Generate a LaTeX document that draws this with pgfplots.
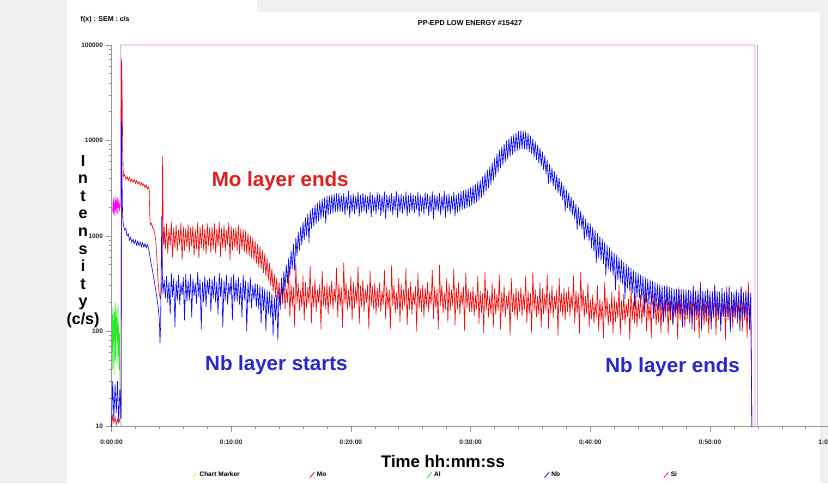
\documentclass[border=0pt]{standalone}
\usepackage{fontspec}
\setmainfont{Liberation Sans}
\usepackage{pgfplots}
\pgfplotsset{compat=1.18}
\definecolor{moRed}{RGB}{240,10,10}
\definecolor{nbBlue}{RGB}{10,10,240}
\definecolor{alGreen}{RGB}{40,235,40}
\definecolor{siMag}{RGB}{255,0,255}
\definecolor{siLine}{RGB}{230,140,230}
\definecolor{txtRed}{RGB}{225,30,30}
\definecolor{txtBlue}{RGB}{40,40,200}
\definecolor{bgGray}{RGB}{240,240,243}
\definecolor{axGray}{RGB}{150,150,150}
\begin{document}
\begin{tikzpicture}
\begin{scope}[shift={(-111.5pt,426.7pt)},x=1pt,y=-1pt]
\fill[bgGray] (0,0) rectangle (828,483);
\fill[white] (67,0) rectangle (257,12);
\fill[white] (67,12) rectangle (820,483);
\end{scope}
\begin{axis}[
 name=ax, at={(0,0)}, anchor=south west,
 scale only axis, width=718.2pt, height=381.7pt,
 xmin=0, xmax=60, ymin=10, ymax=100000, ymode=log,
 clip=false,
 axis x line=bottom, axis y line=left,
 every outer x axis line/.append style={-},
 every outer y axis line/.append style={-},
 axis line style={draw=axGray, line width=0.8pt, -},
 tick style={draw=axGray, line width=0.6pt},
 tick align=outside,
 major tick length=5pt, minor tick length=2.5pt,
 xtick={0,10,20,30,40,50,60},
 minor xtick={2,4,6,8,12,14,16,18,22,24,26,28,32,34,36,38,42,44,46,48,52,54,56,58},
 xticklabels={\textbf{0:00:00},\textbf{0:10:00},\textbf{0:20:00},\textbf{0:30:00},\textbf{0:40:00},\textbf{0:50:00},\textbf{1:00:00}},
 ytick={10,100,1000,10000,100000},
 minor ytick={20,30,40,50,60,70,80,90,200,300,400,500,600,700,800,900,2000,3000,4000,5000,6000,7000,8000,9000,20000,30000,40000,50000,60000,70000,80000,90000},
 yticklabels={\textbf{10},\textbf{100},\textbf{1000},\textbf{10000},\textbf{100000}},
 ticklabel style={font=\fontsize{6.5}{7}\selectfont, text=black!85},
 xticklabel style={yshift=-5pt},
 legend image code/.code={\draw[#1, line width=0.8pt] (0pt,-2.5pt) -- (4.5pt,2.5pt);},
 legend style={at={(axis description cs:0.108,-0.1265)}, anchor=west, draw=none, fill=none,
   legend columns=5, font=\fontsize{6.5}{7}\selectfont\bfseries,
   /tikz/every even column/.append style={column sep=0pt}},
]
\addlegendimage{color=yellow!80!orange!70}
\addlegendentry{\makebox[108pt][l]{Chart Marker}}
\addlegendimage{color=moRed}
\addlegendentry{\makebox[108pt][l]{Mo}}
\addlegendimage{color=alGreen}
\addlegendentry{\makebox[108pt][l]{Al}}
\addlegendimage{color=nbBlue}
\addlegendentry{\makebox[110pt][l]{Nb}}
\addlegendimage{color=siMag}
\addlegendentry{\makebox[108pt][l]{Si}}

% Si
\addplot[forget plot, siMag, line width=0.6pt] coordinates {
(0.10,1800)(0.13,2300)(0.16,1700)(0.19,2500)(0.22,1900)(0.25,2200)(0.28,1600)(0.31,2400)(0.34,1850)(0.37,2600)(0.40,1750)(0.43,2300)(0.46,1950)(0.49,2500)(0.52,1700)(0.55,2200)(0.58,2000)(0.61,2400)(0.64,1800)(0.67,2100)(0.70,2000)(0.74,2100)};
\addplot[forget plot, siLine, line width=0.8pt] coordinates {
(0.74,2100)(0.78,100000)(53.76,100000)(53.76,10)};
% chart marker line
\addplot[forget plot, gray!55, line width=1pt] coordinates {(53.93,10)(53.93,100000)};
% Al
\addplot[forget plot, alGreen, line width=0.6pt] coordinates {
(0.05,60)(0.08,150)(0.10,40)(0.13,180)(0.16,70)(0.19,130)(0.22,35)(0.25,160)(0.28,80)(0.31,200)(0.34,50)(0.37,140)(0.40,90)(0.43,170)(0.46,45)(0.49,120)(0.52,75)(0.55,190)(0.58,55)(0.61,110)(0.64,40)(0.67,95)(0.70,30)(0.75,20)(0.80,10)};
% Mo
\addplot[forget plot, moRed, line width=0.6pt] coordinates {
(0,10)(0.1,13)(0.2,11)(0.3,12.5)(0.4,10.5)(0.5,12)(0.6,11)(0.7,12)(0.8,14)(0.84,72000)(0.88,40000)(0.92,12000)(0.96,5500)
(1.0,4200)(1.1,4400)(1.2,3900)(1.3,4200)(1.4,3800)(1.5,4100)(1.6,3700)(1.7,3950)(1.8,3650)(1.9,3900)(2.0,3550)(2.1,3800)(2.2,3500)(2.3,3700)(2.4,3400)(2.5,3600)(2.6,3350)(2.7,3500)(2.8,3200)(2.9,3400)(3.0,3100)(3.1,3250)(3.15,3000)
(3.2,1600)(3.25,1300)(3.35,1350)(3.45,1200)(3.55,1150)(3.6,1080)(3.7,900)(3.8,560)(3.9,320)(4.0,240)(4.1,220)(4.2,300)(4.27,6900)(4.32,1000)(4.36,800)
(4.4,1250)(4.5,720)(4.6,1350)(4.7,650)(4.8,1180)(4.9,780)(5.0,1400)(5.1,600)(5.2,1220)(5.3,740)(5.4,1300)(5.5,690)(5.6,1150)(5.7,800)(5.8,1380)(5.9,560)(6.0,1260)(6.1,700)(6.2,1200)(6.3,760)
(6.4,1320)(6.5,680)(6.6,1210)(6.7,770)(6.8,1280)(6.9,620)(7.0,1160)(7.1,730)(7.2,1390)(7.3,580)(7.4,1240)(7.5,750)(7.6,1300)(7.7,700)(7.8,1190)(7.9,640)(8.0,1350)(8.1,790)(8.2,1230)(8.3,660)
(8.4,1250)(8.5,720)(8.6,1350)(8.7,650)(8.8,1180)(8.9,780)(9.0,1400)(9.1,600)(9.2,1220)(9.3,740)(9.4,1300)(9.5,690)(9.6,1150)(9.7,800)(9.8,1380)(9.9,560)(10.0,1260)(10.1,700)(10.2,1200)(10.3,760)
(10.4,1220)(10.5,700)(10.6,1300)(10.7,640)(10.8,1180)(10.9,720)
(11.0,1170)(11.1,675)(11.2,1120)(11.3,645)(11.4,1070)(11.5,615)(11.6,1010)(11.7,585)(11.8,950)(11.9,550)(12.0,885)(12.1,510)(12.2,820)(12.3,470)(12.4,780)(12.5,450)(12.6,715)(12.7,410)(12.8,650)(12.9,375)(13.0,585)(13.1,340)(13.2,520)(13.3,300)(13.4,455)(13.5,260)(13.6,400)(13.7,230)(13.8,365)(13.9,210)(14.0,330)(14.1,200)
(14.2,300)(14.3,190)(14.4,340)(14.5,170)(14.6,280)(14.7,200)(14.8,460)(14.9,140)(15.0,310)(15.1,185)(15.2,290)(15.3,110)(15.4,520)(15.5,195)(15.6,320)(15.7,165)(15.8,270)(15.9,180)(16.0,380)(16.1,130)
(16.2,330)(16.3,175)(16.4,290)(16.5,195)(16.6,480)(16.7,120)(16.8,300)(16.9,180)(17.0,350)(17.1,160)(17.2,275)(17.3,200)(17.4,310)(17.5,105)(17.6,430)(17.7,185)(17.8,295)(17.9,170)(18.0,320)(18.1,150)
(18.2,300)(18.3,190)(18.4,340)(18.5,170)(18.6,280)(18.7,200)(18.8,460)(18.9,140)(19.0,310)(19.1,185)(19.2,290)(19.3,110)(19.4,520)(19.5,195)(19.6,320)(19.7,165)(19.8,270)(19.9,180)(20.0,380)(20.1,130)
(20.2,330)(20.3,175)(20.4,290)(20.5,195)(20.6,480)(20.7,120)(20.8,300)(20.9,180)(21.0,350)(21.1,160)(21.2,275)(21.3,200)(21.4,310)(21.5,105)(21.6,430)(21.7,185)(21.8,295)(21.9,170)(22.0,320)(22.1,150)
(22.2,285)(22.3,180)(22.4,325)(22.5,160)(22.6,265)(22.7,190)(22.8,440)(22.9,135)(23.0,295)(23.1,175)(23.2,275)(23.3,105)(23.4,495)(23.5,185)(23.6,305)(23.7,155)(23.8,255)(23.9,170)(24.0,360)(24.1,125)
(24.2,315)(24.3,165)(24.4,275)(24.5,185)(24.6,455)(24.7,115)(24.8,285)(24.9,170)(25.0,330)(25.1,150)(25.2,260)(25.3,190)(25.4,295)(25.5,100)(25.6,410)(25.7,175)(25.8,280)(25.9,160)(26.0,305)(26.1,140)
(26.2,285)(26.3,180)(26.4,325)(26.5,160)(26.6,265)(26.7,190)(26.8,440)(26.9,135)(27.0,295)(27.1,175)(27.2,275)(27.3,105)(27.4,495)(27.5,185)(27.6,305)(27.7,155)(27.8,255)(27.9,170)(28.0,360)(28.1,125)
(28.2,315)(28.3,165)(28.4,275)(28.5,185)(28.6,455)(28.7,115)(28.8,285)(28.9,170)(29.0,330)(29.1,150)(29.2,260)(29.3,190)(29.4,295)(29.5,100)(29.6,410)(29.7,175)(29.8,280)(29.9,160)
(30.0,260)(30.1,160)(30.2,290)(30.3,145)(30.4,240)(30.5,170)(30.6,380)(30.7,120)(30.8,265)(30.9,155)(31.0,250)(31.1,95)(31.2,420)(31.3,165)(31.4,275)(31.5,140)(31.6,235)(31.7,150)(31.8,320)(31.9,110)
(32.0,280)(32.1,150)(32.2,245)(32.3,165)(32.4,395)(32.5,105)(32.6,255)(32.7,155)(32.8,300)(32.9,140)(33.0,235)(33.1,170)(33.2,270)(33.3,90)(33.4,360)(33.5,160)(33.6,250)(33.7,145)(33.8,285)(33.9,130)
(34.0,260)(34.1,160)(34.2,290)(34.3,145)(34.4,240)(34.5,170)(34.6,380)(34.7,120)(34.8,265)(34.9,155)(35.0,250)(35.1,95)(35.2,420)(35.3,165)(35.4,275)(35.5,140)(35.6,235)(35.7,150)(35.8,320)(35.9,110)
(36.0,280)(36.1,150)(36.2,245)(36.3,165)(36.4,395)(36.5,105)(36.6,255)(36.7,155)(36.8,300)(36.9,140)(37.0,235)(37.1,170)(37.2,270)(37.3,90)(37.4,360)(37.5,160)(37.6,250)(37.7,145)(37.8,285)(37.9,130)
(38.0,260)(38.1,160)(38.2,290)(38.3,145)(38.4,240)(38.5,170)(38.6,380)(38.7,120)(38.8,265)(38.9,155)(39.0,250)(39.1,95)(39.2,420)(39.3,165)(39.4,275)(39.5,140)(39.6,235)(39.7,150)(39.8,320)(39.9,110)
(40.0,215)(40.1,135)(40.2,240)(40.3,120)(40.4,200)(40.5,140)(40.6,300)(40.7,100)(40.8,220)(40.9,130)(41.0,205)(41.1,85)(41.2,330)(41.3,138)(41.4,225)(41.5,115)(41.6,195)(41.7,125)(41.8,260)(41.9,95)
(42.0,230)(42.1,125)(42.2,205)(42.3,138)(42.4,310)(42.5,92)(42.6,210)(42.7,130)(42.8,245)(42.9,118)(43.0,195)(43.1,142)(43.2,220)(43.3,82)(43.4,290)(43.5,132)(43.6,205)(43.7,120)(43.8,235)(43.9,110)
(44.0,215)(44.1,135)(44.2,240)(44.3,120)(44.4,200)(44.5,140)(44.6,300)(44.7,100)(44.8,220)(44.9,130)(45.0,205)(45.1,85)(45.2,330)(45.3,138)(45.4,225)(45.5,115)(45.6,195)(45.7,125)(45.8,260)(45.9,95)
(46.0,230)(46.1,125)(46.2,205)(46.3,138)(46.4,310)(46.5,92)(46.6,210)(46.7,130)(46.8,245)(46.9,118)(47.0,195)(47.1,142)(47.2,220)(47.3,82)(47.4,290)(47.5,132)(47.6,205)(47.7,120)(47.8,235)(47.9,110)
(48.0,215)(48.1,135)(48.2,240)(48.3,120)(48.4,200)(48.5,140)(48.6,300)(48.7,100)(48.8,220)(48.9,130)(49.0,205)(49.1,85)(49.2,330)(49.3,138)(49.4,225)(49.5,115)(49.6,195)(49.7,125)(49.8,260)(49.9,95)
(50.0,230)(50.1,125)(50.2,205)(50.3,138)(50.4,310)(50.5,92)(50.6,210)(50.7,130)(50.8,245)(50.9,118)(51.0,195)(51.1,142)(51.2,220)(51.3,82)(51.4,290)(51.5,132)(51.6,205)(51.7,120)(51.8,235)(51.9,110)
(52.0,215)(52.1,135)(52.2,240)(52.3,120)(52.4,200)(52.5,140)(52.6,300)(52.7,100)(52.8,220)(52.9,130)(53.0,205)(53.1,85)(53.2,330)(53.3,138)(53.4,225)(53.5,10)};
% Nb
\addplot[forget plot, nbBlue, line width=0.6pt] coordinates {
(0,10)(0.1,30)(0.2,12)(0.3,28)(0.4,14)(0.5,30)(0.6,11)(0.7,25)(0.8,12)(0.83,16000)(0.87,5000)(0.92,1800)(0.96,1400)
(1.0,1300)(1.1,1150)(1.2,1200)(1.3,1000)(1.4,1050)(1.5,900)(1.6,960)(1.7,850)(1.8,920)(1.9,830)(2.0,900)(2.1,800)(2.2,880)(2.3,790)(2.4,860)(2.5,770)(2.6,850)(2.7,760)(2.8,830)(2.9,750)(3.0,810)(3.1,740)
(3.2,620)(3.3,520)(3.4,450)(3.5,380)(3.6,320)(3.7,270)(3.8,220)(3.9,180)(4.0,130)(4.05,75)(4.1,110)(4.2,1600)(4.25,400)(4.3,250)
(4.4,350)(4.5,220)(4.6,380)(4.7,200)(4.8,330)(4.9,150)(5.0,410)(5.1,230)(5.2,360)(5.3,110)(5.4,340)(5.5,210)(5.6,390)(5.7,190)(5.8,320)(5.9,240)(6.0,370)(6.1,130)(6.2,400)(6.3,205)
(6.4,340)(6.5,210)(6.6,395)(6.7,140)(6.8,355)(6.9,235)(7.0,320)(7.1,195)(7.2,420)(7.3,225)(7.4,350)(7.5,105)(7.6,330)(7.7,200)(7.8,380)(7.9,180)(8.0,345)(8.1,245)(8.2,365)(8.3,160)
(8.4,350)(8.5,220)(8.6,380)(8.7,200)(8.8,330)(8.9,150)(9.0,410)(9.1,230)(9.2,360)(9.3,110)(9.4,340)(9.5,210)(9.6,390)(9.7,190)(9.8,320)(9.9,240)(10.0,370)(10.1,130)(10.2,400)(10.3,205)
(10.4,345)(10.5,205)(10.6,370)(10.7,190)(10.8,320)(10.9,140)(11.0,390)(11.1,215)(11.2,340)(11.3,100)(11.4,325)(11.5,200)(11.6,365)(11.7,175)(11.8,305)(11.9,215)
(12.0,320)(12.1,180)(12.2,310)(12.3,170)(12.4,300)(12.5,120)(12.6,290)(12.7,165)(12.8,280)(12.9,100)(13.0,270)(13.1,150)(13.2,260)(13.3,140)(13.4,250)(13.5,90)(13.6,230)(13.7,130)(13.8,240)(13.9,80)(14.0,270)(14.1,170)
(14.2,360)(14.3,230)(14.4,425)(14.5,270)(14.6,500)(14.7,320)(14.8,590)(14.9,375)(15.0,700)(15.1,450)(15.2,825)(15.3,430)(15.4,960)(15.5,615)(15.6,1100)(15.7,700)(15.8,1250)(15.9,800)(16.0,1400)(16.1,900)
(16.2,1560)(16.3,1000)(16.4,1710)(16.5,850)(16.6,1850)(16.7,1180)(16.8,1980)(16.9,1260)(17.0,2100)(17.1,1340)(17.2,2220)(17.3,1420)(17.4,2340)(17.5,1500)(17.6,2440)(17.7,1560)(17.8,2520)(17.9,1350)(18.0,2600)(18.1,1660)
(18.2,2660)(18.3,1700)(18.4,2710)(18.5,1740)(18.6,2750)(18.7,1760)(18.8,2780)(18.9,1780)(19.0,2800)(19.1,1790)
(19.2,2650)(19.3,1800)(19.4,2800)(19.5,1650)(19.6,2600)(19.7,1850)(19.8,2950)(19.9,1550)(20.0,2700)(20.1,1780)(20.2,2750)(20.3,1700)(20.4,2600)(20.5,1880)(20.6,2900)(20.7,1600)(20.8,2680)(20.9,1750)(21.0,2820)(21.1,1820)
(21.2,2720)(21.3,1720)(21.4,2620)(21.5,1860)(21.6,2880)(21.7,1580)(21.8,2700)(21.9,1800)(22.0,2580)(22.1,1690)(22.2,2850)(22.3,1900)(22.4,2760)(22.5,1620)(22.6,2640)(22.7,1770)(22.8,2920)(22.9,1500)(23.0,2690)(23.1,1840)
(23.2,2650)(23.3,1800)(23.4,2800)(23.5,1650)(23.6,2600)(23.7,1850)(23.8,2950)(23.9,1550)(24.0,2700)(24.1,1780)(24.2,2750)(24.3,1700)(24.4,2600)(24.5,1880)(24.6,2900)(24.7,1600)(24.8,2680)(24.9,1750)(25.0,2820)(25.1,1820)
(25.2,2720)(25.3,1720)(25.4,2620)(25.5,1860)(25.6,2880)(25.7,1580)(25.8,2700)(25.9,1800)(26.0,2580)(26.1,1690)(26.2,2850)(26.3,1900)(26.4,2760)(26.5,1620)(26.6,2640)(26.7,1770)(26.8,2920)(26.9,1500)(27.0,2690)(27.1,1840)
(27.2,2650)(27.3,1800)(27.4,2800)(27.5,1650)(27.6,2600)(27.7,1850)(27.8,2950)(27.9,1550)(28.0,2700)(28.1,1780)(28.2,2750)(28.3,1700)(28.4,2600)(28.5,1880)(28.6,2900)(28.7,1600)(28.8,2680)(28.9,1750)(29.0,2820)(29.1,1820)
(29.2,2940)(29.3,1880)(29.4,3000)(29.5,1920)(29.6,3060)(29.7,1960)(29.8,3120)(29.9,2000)(30.0,3250)(30.1,2080)(30.2,3370)(30.3,2160)(30.4,3500)(30.5,2240)(30.6,3690)(30.7,2360)(30.8,3870)(30.9,2480)(31.0,4190)(31.1,2680)
(31.2,4560)(31.3,2920)(31.4,4940)(31.5,3160)(31.6,5310)(31.7,3400)(31.8,5870)(31.9,3760)(32.0,6500)(32.1,4160)(32.2,7250)(32.3,4640)(32.4,8000)(32.5,5120)(32.6,8620)(32.7,5520)(32.8,9250)(32.9,5920)(33.0,9870)(33.1,6320)
(33.2,10500)(33.3,6720)(33.4,11100)(33.5,7120)(33.6,11600)(33.7,7440)(33.8,12100)(33.9,7760)(34.0,12500)(34.1,8000)(34.2,12700)(34.3,8120)(34.4,12600)(34.5,8080)(34.6,12400)(34.7,7920)(34.8,11900)(34.9,7600)(35.0,11250)(35.1,7200)
(35.2,10500)(35.3,6720)(35.4,9750)(35.5,6240)(35.6,9000)(35.7,5760)(35.8,8370)(35.9,5360)(36.0,7620)(36.1,4880)(36.2,6940)(36.3,4440)(36.4,6250)(36.5,3500)(36.6,5690)(36.7,3640)(36.8,5190)(36.9,3320)(37.0,4750)(37.1,3040)
(37.2,4370)(37.3,2800)(37.4,4060)(37.5,2600)(37.6,3690)(37.7,2360)(37.8,3370)(37.9,1800)(38.0,3060)(38.1,1960)(38.2,2810)(38.3,1800)(38.4,2560)(38.5,1640)(38.6,2350)(38.7,1500)(38.8,2150)(38.9,1150)(39.0,2000)(39.1,1280)
(39.2,1830)(39.3,1170)(39.4,1660)(39.5,900)(39.6,1510)(39.7,970)(39.8,1380)(39.9,880)
(40.0,1350)(40.1,740)(40.2,1240)(40.3,680)(40.4,1150)(40.5,520)(40.6,1070)(40.7,585)(40.8,1000)(40.9,550)(41.0,930)(41.1,510)(41.2,865)(41.3,380)(41.4,810)(41.5,445)(41.6,755)(41.7,415)(41.8,700)(41.9,385)
(42.0,660)(42.1,270)(42.2,630)(42.3,345)(42.4,595)(42.5,325)(42.6,565)(42.7,310)(42.8,535)(42.9,220)(43.0,505)(43.1,280)(43.2,480)(43.3,265)(43.4,460)(43.5,250)(43.6,440)(43.7,180)(43.8,420)(43.9,230)
(44.0,405)(44.1,220)(44.2,390)(44.3,215)(44.4,380)(44.5,155)(44.6,365)(44.7,200)(44.8,355)(44.9,195)(45.0,345)(45.1,190)(45.2,335)(45.3,135)(45.4,325)(45.5,178)(45.6,315)(45.7,172)(45.8,308)(45.9,168)
(46.0,300)(46.1,125)(46.2,297)(46.3,163)(46.4,293)(46.5,160)(46.6,290)(46.7,158)(46.8,285)(46.9,115)(47.0,281)(47.1,154)(47.2,278)(47.3,152)(47.4,277)(47.5,150)(47.6,275)(47.7,110)(47.8,274)(47.9,150)
(48.0,273)(48.1,149)(48.2,272)(48.3,148)(48.4,270)(48.5,105)(48.6,290)(48.7,148)(48.8,268)(48.9,147)(49.0,267)(49.1,146)(49.2,300)(49.3,100)(49.4,266)(49.5,146)(49.6,265)(49.7,145)(49.8,280)(49.9,145)
(50.0,263)(50.1,105)(50.2,263)(50.3,144)(50.4,295)(50.5,143)(50.6,262)(50.7,143)(50.8,260)(50.9,100)(51.0,285)(51.1,143)(51.2,259)(51.3,142)(51.4,259)(51.5,142)(51.6,300)(51.7,98)(51.8,258)(51.9,141)
(52.0,256)(52.1,140)(52.2,275)(52.3,140)(52.4,256)(52.5,100)(52.6,290)(52.7,140)(52.8,255)(52.9,140)(53.0,270)(53.1,140)(53.2,255)(53.3,105)(53.4,254)(53.5,10)};
\end{axis}
\begin{scope}[shift={(-111.5pt,426.7pt)},x=1pt,y=-1pt]
\node[anchor=west, font=\fontsize{7}{8}\selectfont\bfseries, inner sep=0] at (80.5,20) {f(x) : SEM : c/s};
\node[font=\fontsize{7.2}{8}\selectfont\bfseries, inner sep=0] at (470,23) {PP-EPD LOW ENERGY \#15427};
\node[anchor=base, font=\fontsize{16.8}{18}\selectfont\bfseries, inner sep=0] at (443,467) {Time hh:mm:ss};
\foreach \c [count=\i from 0] in {I,n,t,e,n,s,i,t,y}
  \node[anchor=base, font=\fontsize{16}{18}\selectfont\bfseries, inner sep=0] at (83,166+17.6*\i) {\c};
\node[anchor=base, font=\fontsize{16}{18}\selectfont\bfseries, inner sep=0] at (83,324.4) {(c/s)};
\node[anchor=base west, text=txtRed, font=\fontsize{20.5}{24}\selectfont\bfseries, inner sep=0] at (211.7,186) {Mo layer ends};
\node[anchor=base west, text=txtBlue, font=\fontsize{20.5}{24}\selectfont\bfseries, inner sep=0] at (205,370) {Nb layer starts};
\node[anchor=base east, text=txtBlue, font=\fontsize{20.5}{24}\selectfont\bfseries, inner sep=0] at (740,372) {Nb layer ends};
\pgfresetboundingbox
\path[use as bounding box] (0,0) rectangle (828,483);
\end{scope}
\end{tikzpicture}
\end{document}
